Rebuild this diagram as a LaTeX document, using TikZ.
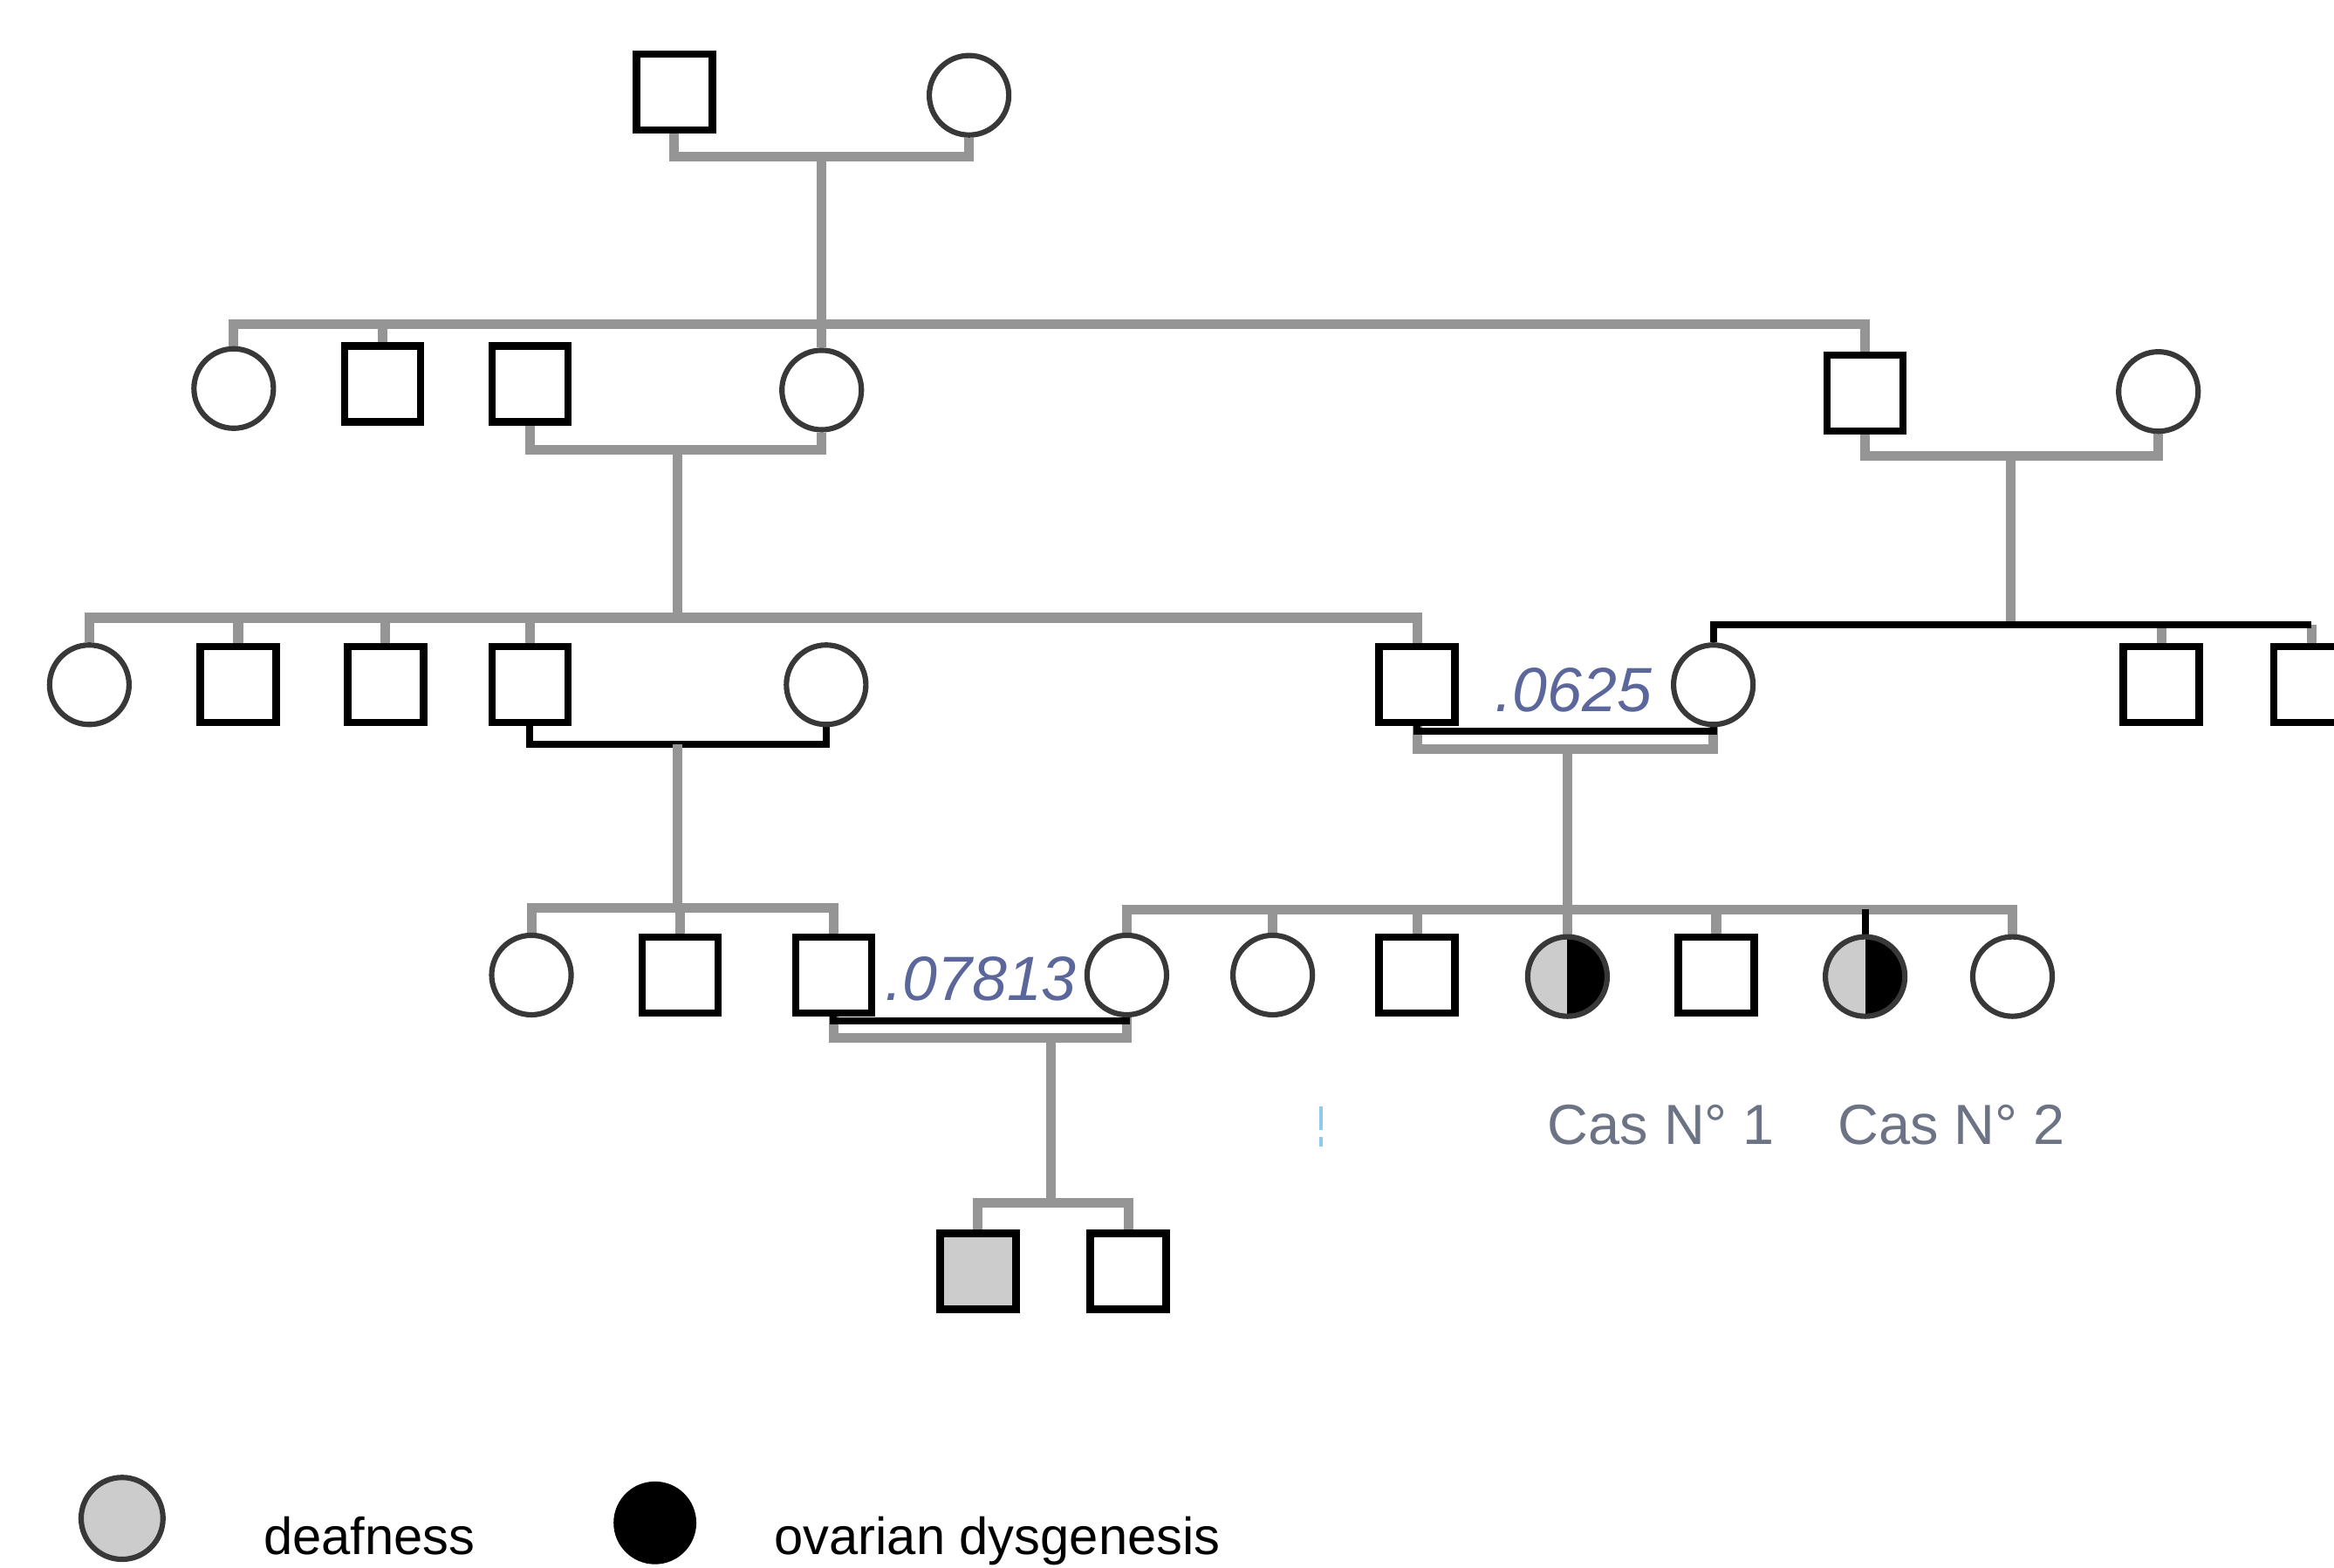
\documentclass[tikz,border=0pt]{standalone}
\usepackage{fontspec}
\setmainfont{Liberation Sans}
\usetikzlibrary{backgrounds}
\definecolor{lgray}{HTML}{959595}
\definecolor{dgray}{HTML}{383838}
\definecolor{fillgray}{HTML}{CCCCCC}
\definecolor{numblue}{HTML}{5B679A}
\definecolor{casgray}{HTML}{6C7384}
\definecolor{markblue}{HTML}{8CCBF0}
\begin{document}
\begin{tikzpicture}[x=1pt,y=-1pt,
  male/.style={rectangle,draw=black,line width=4.9pt,minimum size=51pt,inner sep=0pt,fill=white},
  female/.style={circle,draw=dgray,line width=3.6pt,minimum size=53.4pt,inner sep=0pt,fill=white},
  deaf/.style={fill=fillgray},
  dysg/.style={fill=black},
  deafdysg/.style={path picture={
     \fill[fillgray] (path picture bounding box.south west) rectangle (path picture bounding box.north);
     \fill[black] (path picture bounding box.south) rectangle (path picture bounding box.north east);}},
  gline/.style={draw=lgray,line width=6.5pt},
  bline/.style={draw=black,line width=4.7pt},
  numlabel/.style={font=\fontsize{42}{48}\selectfont\itshape,text=numblue,inner sep=0pt,anchor=base},
  caslabel/.style={font=\fontsize{38}{44}\selectfont,text=casgray,inner sep=0pt,anchor=base},
  legtext/.style={font=\fontsize{35}{40}\selectfont,text=black,inner sep=0pt,anchor=base west}]
\useasboundingbox (0,0) rectangle (1568,1053);

% Generation I
\node[male] (I1) at (453,62) {};
\node[female] (I2) at (651,64) {};
% Generation II
\node[female] (II1) at (157,261) {};
\node[male] (II2) at (257,258) {};
\node[male] (II3) at (356,258) {};
\node[female] (II4) at (552,262) {};
\node[male] (II5) at (1253,264) {};
\node[female] (II6) at (1450,263) {};
% Generation III
\node[female] (III1) at (60,460) {};
\node[male] (III2) at (160,460) {};
\node[male] (III3) at (259,460) {};
\node[male] (III4) at (356,460) {};
\node[female] (III5) at (555,460) {};
\node[male] (III6) at (952,460) {};
\node[female] (III7) at (1151,460) {};
\node[male] (III8) at (1452,460) {};
\node[male] (III9) at (1553,460) {};
% Generation IV
\node[female] (IV1) at (357,655) {};
\node[male] (IV2) at (457,655) {};
\node[male] (IV3) at (560,655) {};
\node[female] (IV4) at (757,655) {};
\node[female] (IV5) at (855,655) {};
\node[male] (IV6) at (952,655) {};
\node[female,deafdysg] (IV7) at (1053,656) {};
\node[male] (IV8) at (1153,655) {};
\node[female,deafdysg] (IV9) at (1253,656) {};
\node[female] (IV10) at (1352,656) {};
% Generation V
\node[male,deaf] (V1) at (657,854) {};
\node[male] (V2) at (758,854) {};

% junction points
\coordinate (m1) at (552,105);
\coordinate (c1) at (552,218);
\coordinate (m2) at (455,302);
\coordinate (c2) at (455,415);
\coordinate (m3) at (1351,306);
\coordinate (c3) at (1351,419.5);
\coordinate (m4) at (455,500);
\coordinate (c4) at (455,610);
\coordinate (k5) at (1053,491);
\coordinate (m5) at (1053,503);
\coordinate (c5) at (1053,611);
\coordinate (k6) at (706,686);
\coordinate (m6) at (706,697);
\coordinate (c6) at (706,808);

\begin{pgfonlayer}{background}
  % I
  \draw[gline] (I1.south) |- (m1) -| (I2.south);
  \draw[gline] (m1) -- (c1);
  % II sibship
  \draw[gline] (II1.north) |- (c1) -| (II5.north);
  \draw[gline] (II2.north) -- (II2.north |- c1);
  \draw[gline] (c1) -- (II4.north);
  % II couples
  \draw[gline] (II3.south) |- (m2) -| (II4.south);
  \draw[gline] (m2) -- (c2);
  \draw[gline] (II5.south) |- (m3) -| (II6.south);
  \draw[gline] (m3) -- (c3);
  % III sibships
  \draw[gline] (III1.north) |- (c2) -| (III6.north);
  \draw[gline] (III2.north) -- (III2.north |- c2);
  \draw[gline] (III3.north) -- (III3.north |- c2);
  \draw[gline] (III4.north) -- (III4.north |- c2);
  \draw[gline] (III8.north) -- (III8.north |- c3);
  \draw[gline] (III9.north) -- (III9.north |- c3);
  \draw[bline] (III7.north) |- (c3) -- (c3 -| III9.north);
  % III couples
  \draw[bline] (III4.south) |- (m4) -| (III5.south);
  \draw[gline] (m4) -- (c4);
  \draw[gline] (III6.south) |- (m5) -| (III7.south);
  \draw[bline] (III6.south) |- (k5) -| (III7.south);
  \draw[gline] (m5) -- (c5);
  % IV sibships
  \draw[gline] (IV1.north) |- (c4) -| (IV3.north);
  \draw[gline] (IV2.north) -- (IV2.north |- c4);
  \draw[gline] (IV4.north) |- (c5) -| (IV10.north);
  \draw[gline] (IV5.north) -- (IV5.north |- c5);
  \draw[gline] (IV6.north) -- (IV6.north |- c5);
  \draw[gline] (IV8.north) -- (IV8.north |- c5);
  \draw[gline] (c5) -- (IV7.north);
  \draw[bline] (IV9.north) -- (IV9.north |- c5);
  % IV couple
  \draw[gline] (IV3.south) |- (m6) -| (IV4.south);
  \draw[bline] (IV3.south) |- (k6) -| (IV4.south);
  \draw[gline] (m6) -- (c6);
  % V sibship
  \draw[gline] (V1.north) |- (c6) -| (V2.north);
\end{pgfonlayer}

% labels
\node[numlabel] (k1) at (1057,478) {.0625};
\node[numlabel] (k2) at (659,672) {.07813};
\node[caslabel] (cas1) at (1116,769) {Cas N° 1};
\node[caslabel] (cas2) at (1311,769) {Cas N° 2};
\fill[markblue] (886,743) rectangle (888.5,759);
\fill[markblue] (886,764) rectangle (888.5,770);

% legend
\node[female,deaf,minimum size=55pt] (L1) at (82,1020) {};
\node[female,dysg,draw=black,minimum size=52pt] (L2) at (440,1023) {};
\node[legtext] (L1t) at (177,1044) {deafness};
\node[legtext] (L2t) at (520,1044) {ovarian dysgenesis};
\end{tikzpicture}
\end{document}
